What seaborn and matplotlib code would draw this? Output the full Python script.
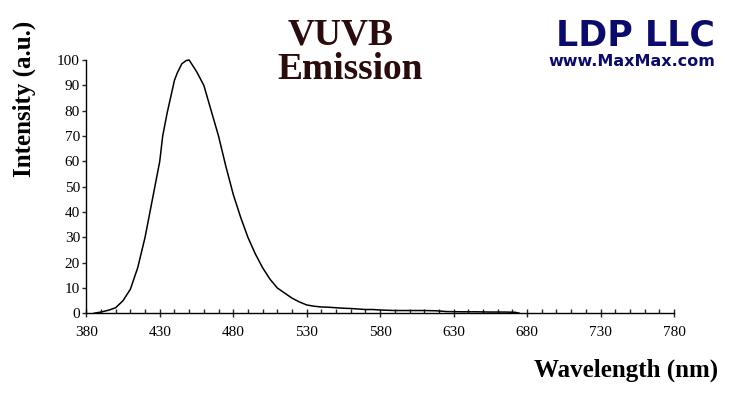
import matplotlib
matplotlib.use('Agg')
import matplotlib.pyplot as plt
from matplotlib.ticker import MultipleLocator
import seaborn as sns

# emission spectrum
wavelength = [385, 390, 395, 400, 405, 410, 415, 420, 425, 430, 432, 435, 440, 442, 445, 448, 450,
              455, 460, 465, 470, 475, 480, 485, 490, 495, 500, 505, 510, 515, 520, 525, 530,
              535, 540, 545, 550, 555, 560, 565, 570, 575, 580, 590, 600, 610, 618, 625, 635,
              645, 655, 665, 672, 675]
intensity = [0, 0.5, 1.2, 2.2, 5, 9.5, 18, 30, 45, 60, 70, 79, 92, 95, 98.5, 99.8, 100,
             95.5, 90, 80, 70, 58, 47, 38, 30, 23.5, 18, 13.5, 10, 8, 6, 4.5, 3.3,
             2.8, 2.5, 2.4, 2.2, 2, 1.9, 1.7, 1.5, 1.5, 1.3, 1.1, 1.1, 1.1, 1.0, 0.7, 0.6,
             0.6, 0.5, 0.5, 0.4, 0]
x_ticks = [380, 430, 480, 530, 580, 630, 680, 730, 780]
y_ticks = [0, 10, 20, 30, 40, 50, 60, 70, 80, 90, 100]

sns.set_style('white')
plt.rcParams['font.family'] = ['Liberation Serif', 'DejaVu Serif']
plt.rcParams['text.color'] = 'black'

fig = plt.figure(figsize=(7.35, 3.97), dpi=100)
ax = fig.add_axes([0.1174, 0.2108, 0.7996, 0.638])

sns.lineplot(x=wavelength, y=intensity, color='black', linewidth=1.1, ax=ax, clip_on=False)

ax.set_xlim(380, 780)
ax.set_ylim(0, 100)
ax.set_xticks(x_ticks)
ax.set_yticks(y_ticks)
ax.xaxis.set_minor_locator(MultipleLocator(10))

for s in ['top', 'right']:
    ax.spines[s].set_visible(False)
for s in ['left', 'bottom']:
    ax.spines[s].set_color('black')
    ax.spines[s].set_linewidth(1.0)

ax.tick_params(axis='x', which='major', direction='inout', length=6, width=1, pad=6,
               labelsize=11, labelcolor='black', bottom=True)
ax.tick_params(axis='x', which='minor', direction='in', length=3, width=1, bottom=True)
ax.tick_params(axis='y', which='major', direction='out', length=3, width=1, pad=1.5,
               labelsize=11, labelcolor='black', left=True)

ax.set_xlabel('')
ax.set_ylabel('')
fig.text(0.033, 0.75, 'Intensity (a.u.)', rotation=90, ha='center', va='center',
         fontsize=18, fontweight='bold', color='black')
fig.text(0.977, 0.068, 'Wavelength (nm)', ha='right', va='center',
         fontsize=18, fontweight='bold', color='black')

fig.text(0.463, 0.912, 'VUVB', ha='center', va='center', fontsize=27,
         fontweight='bold', color='#2a0c0c')
fig.text(0.476, 0.826, 'Emission', ha='center', va='center', fontsize=27,
         fontweight='bold', color='#2a0c0c')

fig.text(0.973, 0.91, 'LDP LLC', ha='right', va='center', fontsize=25,
         fontweight='bold', color='#0b0b6e', family='DejaVu Sans')
fig.text(0.973, 0.845, 'www.MaxMax.com', ha='right', va='center', fontsize=11.5,
         fontweight='bold', color='#0b0b6e', family='DejaVu Sans')

fig.savefig('out.png', dpi=100)
